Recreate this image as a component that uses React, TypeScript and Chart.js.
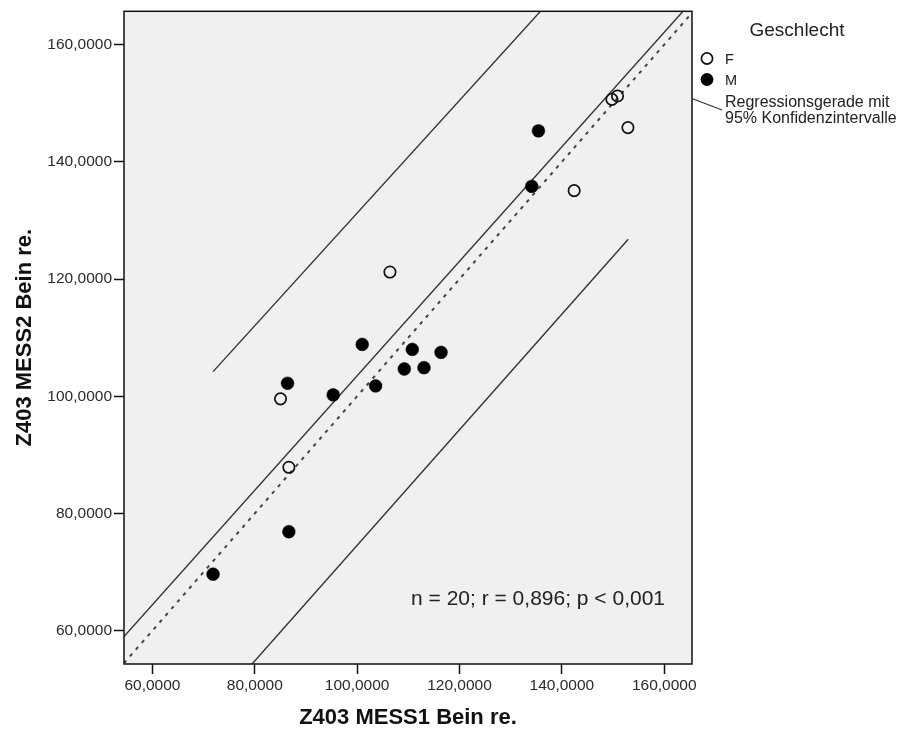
import React, { useEffect, useRef } from "react";
import { Chart, registerables } from "chart.js";

Chart.register(...registerables);

// ---- data ----
const femaleX = [150.87, 149.77, 152.9, 142.4, 106.41, 85.03, 86.66];
const femaleY = [151.23, 150.65, 145.84, 135.08, 121.19, 99.55, 87.88];
const maleX = [135.42, 134.12, 100.99, 86.4, 95.32, 103.61, 110.77, 109.21, 113.06, 116.39, 86.66, 71.85];
const maleY = [145.28, 135.81, 108.84, 102.21, 100.23, 101.76, 107.99, 104.65, 104.87, 107.48, 76.88, 69.64];

const fitLineX = [54.45, 165.42];
const fitLineY = [58.98, 167.4];
const upperCIX = [71.85, 152.9];
const upperCIY = [104.2, 182.1];
const lowerCIX = [71.85, 152.96];
const lowerCIY = [46.8, 126.8];
const refLineX = [54.45, 165.42];
const refLineY = [54.45, 165.42];

const tickValues = [60, 80, 100, 120, 140, 160];
const axisMin = 54.45;
const axisMaxX = 165.42;
const axisMinY = 54.31;
const axisMaxY = 165.68;

const xTitle = "Z403 MESS1 Bein re.";
const yTitle = "Z403 MESS2 Bein re.";
const legendTitle = "Geschlecht";
const legendF = "F";
const legendM = "M";
const legendLine = ["Regressionsgerade mit", "95% Konfidenzintervalle"];
const statsText = "n = 20; r = 0,896; p < 0,001";

const FONT = "'Liberation Sans', Arial, sans-serif";
const zip = (xs: number[], ys: number[]) => xs.map((x, i) => ({ x, y: ys[i] }));
const fmt = (v: number) => v.toFixed(4).replace(".", ",");

const framePlugin = {
  id: "frame",
  beforeDraw(chart: any) {
    const { ctx, chartArea: a } = chart;
    ctx.save();
    ctx.fillStyle = "#f0f0f0";
    ctx.fillRect(a.left, a.top, a.right - a.left, a.bottom - a.top);
    ctx.restore();
  },
  afterDraw(chart: any) {
    const { ctx, chartArea: a } = chart;
    ctx.save();
    ctx.strokeStyle = "#111";
    ctx.lineWidth = 1.5;
    ctx.strokeRect(a.left, a.top, a.right - a.left, a.bottom - a.top);

    // stats annotation
    ctx.fillStyle = "#222";
    ctx.font = `21px ${FONT}`;
    ctx.textAlign = "right";
    ctx.textBaseline = "middle";
    ctx.fillText(statsText, a.right - 27, a.bottom - 65);

    // legend
    ctx.textAlign = "center";
    ctx.textBaseline = "alphabetic";
    ctx.font = `19px ${FONT}`;
    ctx.fillText(legendTitle, 797, 36);

    ctx.lineWidth = 1.7;
    ctx.strokeStyle = "#111";
    ctx.beginPath();
    ctx.arc(707, 58.5, 5.6, 0, Math.PI * 2);
    ctx.stroke();
    ctx.fillStyle = "#000";
    ctx.beginPath();
    ctx.arc(707, 79.5, 6.4, 0, Math.PI * 2);
    ctx.fill();

    ctx.fillStyle = "#222";
    ctx.textAlign = "left";
    ctx.font = `14.5px ${FONT}`;
    ctx.fillText(legendF, 725, 63.5);
    ctx.fillText(legendM, 725, 85);

    ctx.strokeStyle = "#333";
    ctx.lineWidth = 1.3;
    ctx.beginPath();
    ctx.moveTo(a.right, 98.5);
    ctx.lineTo(722, 110);
    ctx.stroke();

    ctx.font = `16px ${FONT}`;
    ctx.fillText(legendLine[0], 725, 106.5);
    ctx.fillText(legendLine[1], 725, 122.5);
    ctx.restore();
  },
};

export default function App() {
  const ref = useRef<HTMLCanvasElement | null>(null);

  useEffect(() => {
    if (!ref.current) return;
    const lineStyle = {
      showLine: true,
      pointRadius: 0,
      borderColor: "#333",
      borderWidth: 1.4,
      fill: false,
    };
    const chart = new Chart(ref.current, {
      type: "scatter",
      data: {
        datasets: [
          {
            label: "F",
            data: zip(femaleX, femaleY),
            pointRadius: 5.7,
            pointBorderWidth: 1.7,
            pointBorderColor: "#111",
            pointBackgroundColor: "rgba(0,0,0,0)",
          },
          {
            label: "M",
            data: zip(maleX, maleY),
            pointRadius: 6.4,
            pointBorderWidth: 0.5,
            pointBorderColor: "#000",
            pointBackgroundColor: "#000",
          },
          { label: "fit", data: zip(fitLineX, fitLineY), ...lineStyle },
          { label: "upper", data: zip(upperCIX, upperCIY), ...lineStyle },
          { label: "lower", data: zip(lowerCIX, lowerCIY), ...lineStyle },
          {
            label: "ref",
            data: zip(refLineX, refLineY),
            ...lineStyle,
            borderColor: "#444",
            borderDash: [3.5, 5.5],
            borderWidth: 2,
          },
        ] as any,
      },
      options: {
        responsive: false,
        animation: false,
        events: [],
        layout: { padding: { left: 0, top: 8, right: 213, bottom: 0 } },
        plugins: {
          legend: { display: false },
          tooltip: { enabled: false },
        },
        scales: {
          x: {
            type: "linear",
            min: axisMin,
            max: axisMaxX,
            afterBuildTicks: (s: any) => {
              s.ticks = tickValues.map((v) => ({ value: v }));
            },
            afterFit: (s: any) => {
              s.height = 70;
            },
            border: { display: false },
            grid: {
              drawOnChartArea: false,
              drawTicks: true,
              tickLength: 10,
              tickColor: "#111",
              tickWidth: 1.5,
            },
            ticks: {
              padding: 2,
              color: "#2a2a2a",
              font: { family: FONT, size: 15.5 },
              maxRotation: 0,
              callback: (v: any) => fmt(Number(v)),
            },
            title: {
              display: true,
              text: xTitle,
              color: "#111",
              font: { family: FONT, size: 22, weight: "bold" },
              padding: { top: 0, bottom: 3 },
            },
          },
          y: {
            type: "linear",
            min: axisMinY,
            max: axisMaxY,
            afterBuildTicks: (s: any) => {
              s.ticks = tickValues.map((v) => ({ value: v }));
            },
            afterFit: (s: any) => {
              s.width = 124;
            },
            border: { display: false },
            grid: {
              drawOnChartArea: false,
              drawTicks: true,
              tickLength: 10,
              tickColor: "#111",
              tickWidth: 1.5,
            },
            ticks: {
              padding: 2,
              color: "#2a2a2a",
              font: { family: FONT, size: 15.5 },
              callback: (v: any) => fmt(Number(v)),
            },
            title: {
              display: true,
              text: yTitle,
              color: "#111",
              font: { family: FONT, size: 22, weight: "bold" },
              padding: { top: 12, bottom: 0 },
            },
          },
        },
      } as any,
      plugins: [framePlugin],
    });
    return () => chart.destroy();
  }, []);

  return (
    <div
      style={{
        position: "fixed",
        left: 0,
        top: 0,
        width: 905,
        height: 734,
        background: "#fff",
      }}
    >
      <canvas ref={ref} width={905} height={734} style={{ display: "block" }} />
    </div>
  );
}
